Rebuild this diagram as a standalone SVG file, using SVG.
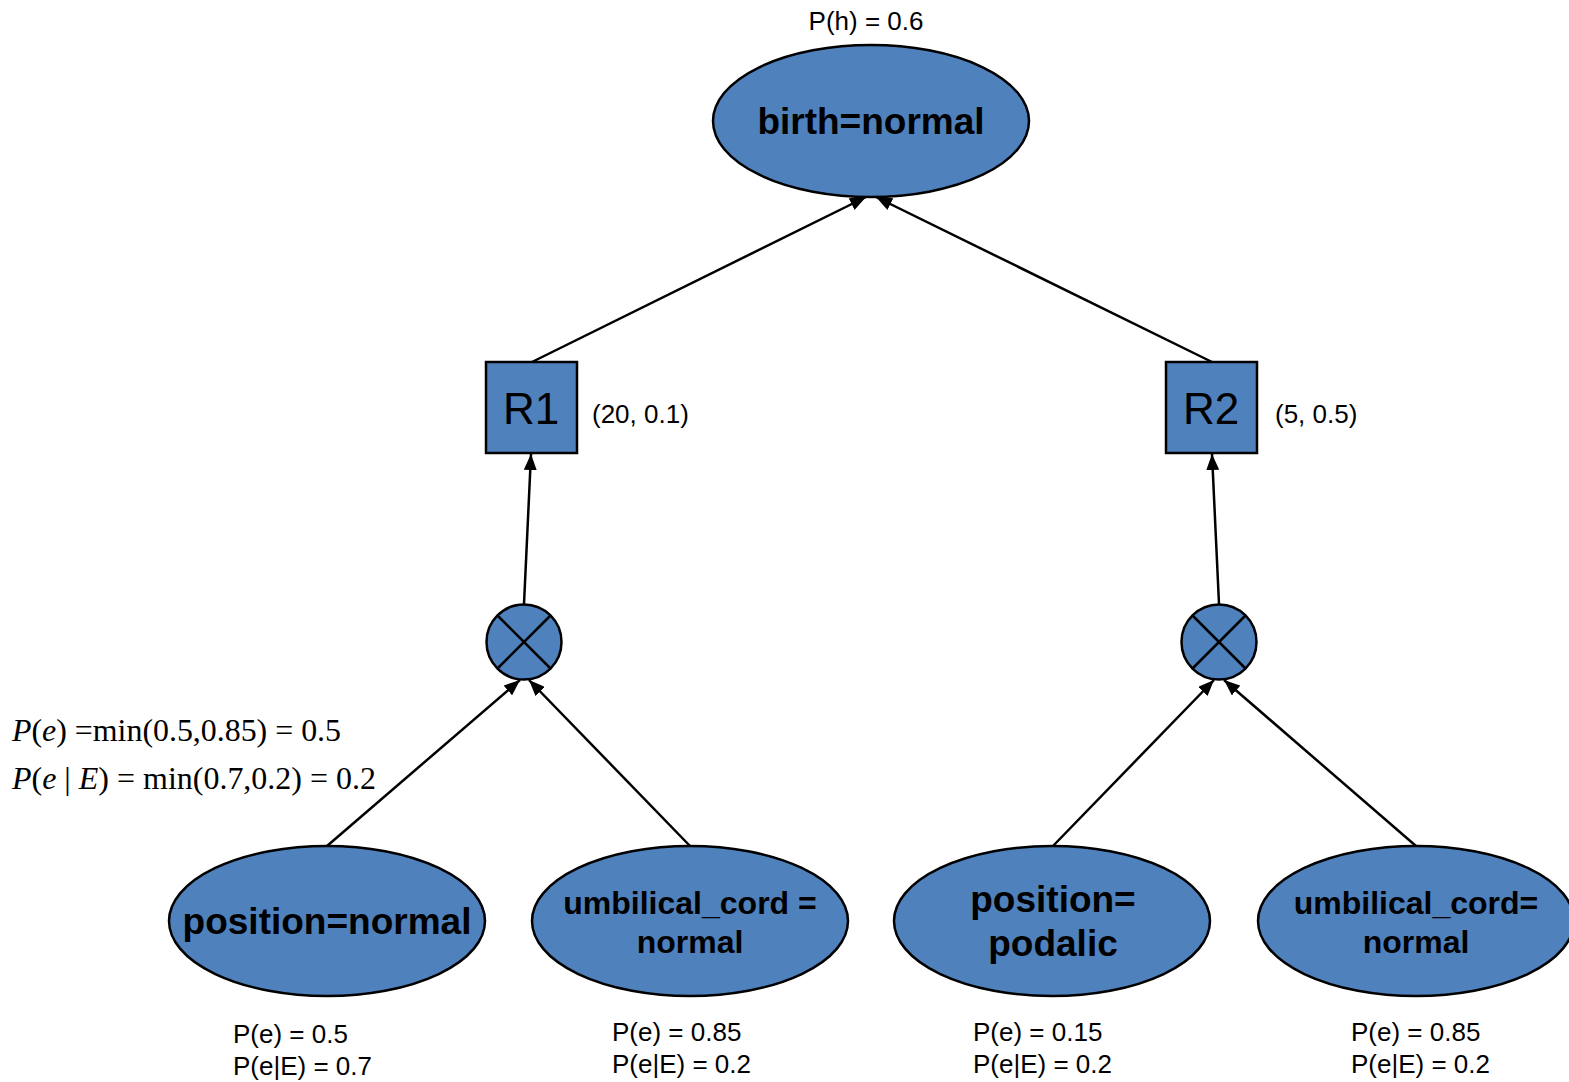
<svg xmlns="http://www.w3.org/2000/svg" width="1569" height="1082" viewBox="0 0 1569 1082">
  <style>
    .node { fill: #4f81bd; stroke: #000; stroke-width: 2.5; }
    .edge { stroke: #000; stroke-width: 2.5; fill: none; marker-end: url(#arrow); }
    .cross { stroke: #000; stroke-width: 2.5; }
    .lbl { font-family: "Liberation Sans", Arial, sans-serif; font-size: 26px; fill: #000; }
    .big { font-family: "Liberation Sans", Arial, sans-serif; font-size: 37px; font-weight: bold; fill: #000; text-anchor: middle; }
    .mid { font-family: "Liberation Sans", Arial, sans-serif; font-size: 32px; font-weight: bold; fill: #000; text-anchor: middle; }
    .rule { font-family: "Liberation Sans", Arial, sans-serif; font-size: 44px; fill: #000; text-anchor: middle; }
    .math { font-family: "Liberation Serif", "Times New Roman", serif; font-size: 31px; fill: #000; }
    .it { font-style: italic; }
  </style>
  <defs>
    <marker id="arrow" viewBox="0 0 16 13" refX="16" refY="6.5" markerWidth="16" markerHeight="13" markerUnits="userSpaceOnUse" orient="auto">
      <path d="M0,0 L16,6.5 L0,13 Z" fill="#000"/>
    </marker>
  </defs>

  <rect width="1569" height="1082" fill="#fff"/>

  <!-- connectors -->
  <g id="connectors">
    <line class="edge" x1="532" y1="362" x2="866" y2="197"/>
    <line class="edge" x1="1212" y1="362" x2="876" y2="197"/>
    <line class="edge" x1="524" y1="604" x2="531" y2="454"/>
    <line class="edge" x1="1219" y1="604" x2="1212" y2="454"/>
    <line class="edge" x1="327" y1="846" x2="520" y2="680"/>
    <line class="edge" x1="690" y1="846" x2="529" y2="680"/>
    <line class="edge" x1="1053" y1="846" x2="1214" y2="680"/>
    <line class="edge" x1="1416" y1="846" x2="1224" y2="680"/>
  </g>

  <!-- hypothesis -->
  <g id="birth-normal">
    <ellipse class="node" cx="871" cy="121" rx="158" ry="76"/>
    <text class="big" x="871" y="134">birth=normal</text>
    <text class="lbl" x="866" y="30" text-anchor="middle">P(h) = 0.6</text>
  </g>

  <!-- rules -->
  <g id="R1">
    <rect class="node" x="486" y="362" width="91" height="91"/>
    <text class="rule" x="531" y="424">R1</text>
    <text class="lbl" x="592" y="423">(20, 0.1)</text>
  </g>
  <g id="R2">
    <rect class="node" x="1166" y="362" width="91" height="91"/>
    <text class="rule" x="1211" y="424">R2</text>
    <text class="lbl" x="1275" y="423">(5, 0.5)</text>
  </g>

  <!-- combination operators -->
  <g id="and1">
    <circle class="node" cx="524" cy="642" r="37.5"/>
    <line class="cross" x1="497.5" y1="615.5" x2="550.5" y2="668.5"/>
    <line class="cross" x1="550.5" y1="615.5" x2="497.5" y2="668.5"/>
  </g>
  <g id="and2">
    <circle class="node" cx="1219" cy="642" r="37.5"/>
    <line class="cross" x1="1192.5" y1="615.5" x2="1245.5" y2="668.5"/>
    <line class="cross" x1="1245.5" y1="615.5" x2="1192.5" y2="668.5"/>
  </g>

  <!-- combined evidence -->
  <g id="combined">
    <text class="math" x="12" y="741" textLength="329" lengthAdjust="spacingAndGlyphs"><tspan class="it">P</tspan>(<tspan class="it">e</tspan>) =min(0.5,0.85) = 0.5</text>
    <text class="math" x="12" y="789" textLength="364" lengthAdjust="spacingAndGlyphs"><tspan class="it">P</tspan>(<tspan class="it">e</tspan> | <tspan class="it">E</tspan>) = min(0.7,0.2) = 0.2</text>
  </g>

  <!-- evidence -->
  <g id="position-normal">
    <ellipse class="node" cx="327" cy="921" rx="158" ry="75"/>
    <text class="big" x="327" y="934">position=normal</text>
    <text class="lbl" x="233" y="1043">P(e) = 0.5</text>
    <text class="lbl" x="233" y="1075">P(e|E) = 0.7</text>
  </g>
  <g id="umbilical-normal-1">
    <ellipse class="node" cx="690" cy="921" rx="158" ry="75"/>
    <text class="mid" x="690" y="914">umbilical_cord =</text>
    <text class="mid" x="690" y="953">normal</text>
    <text class="lbl" x="612" y="1041">P(e) = 0.85</text>
    <text class="lbl" x="612" y="1073">P(e|E) = 0.2</text>
  </g>
  <g id="position-podalic">
    <ellipse class="node" cx="1052" cy="921" rx="158" ry="75"/>
    <text class="big" x="1053" y="912">position=</text>
    <text class="big" x="1053" y="956">podalic</text>
    <text class="lbl" x="973" y="1041">P(e) = 0.15</text>
    <text class="lbl" x="973" y="1073">P(e|E) = 0.2</text>
  </g>
  <g id="umbilical-normal-2">
    <ellipse class="node" cx="1416" cy="921" rx="158" ry="75"/>
    <text class="mid" x="1416" y="914">umbilical_cord=</text>
    <text class="mid" x="1416" y="953">normal</text>
    <text class="lbl" x="1351" y="1041">P(e) = 0.85</text>
    <text class="lbl" x="1351" y="1073">P(e|E) = 0.2</text>
  </g>
</svg>
